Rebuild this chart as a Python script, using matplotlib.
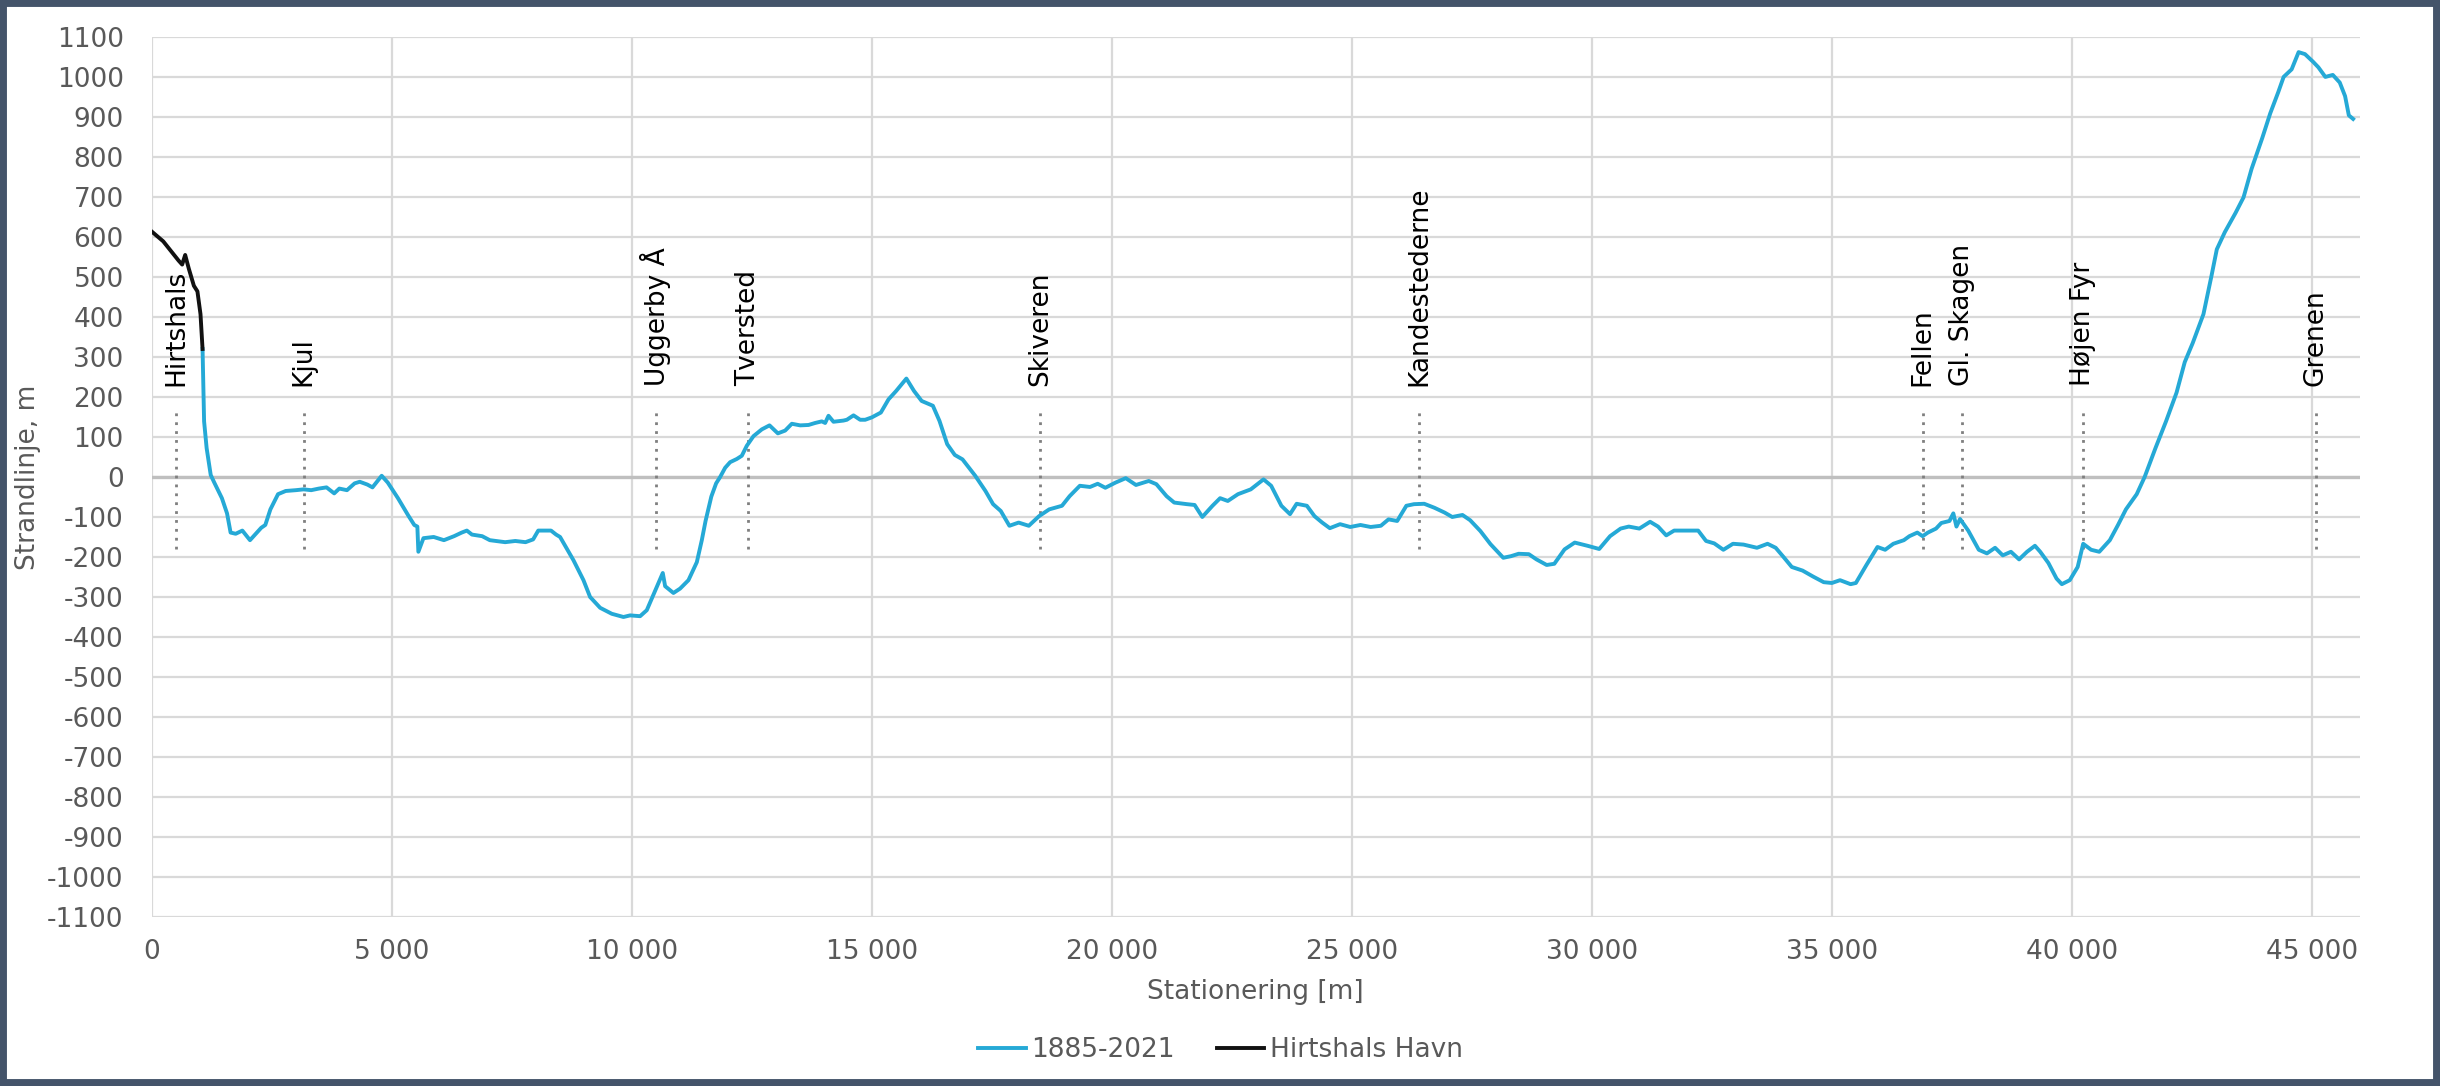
import matplotlib
matplotlib.use("Agg")
import matplotlib.pyplot as plt
from matplotlib.patches import Rectangle
from matplotlib.ticker import FuncFormatter, MultipleLocator

# Shoreline change 1885-2021 along the stationing
station_1885_2021 = [
    1063, 1095, 1148, 1233, 1307, 1466, 1573, 1647, 1753, 1892, 2051, 2157, 2285, 2370,
    2476, 2635, 2795, 3007, 3167, 3326, 3486, 3645, 3805, 3911, 4071, 4230, 4337, 4496,
    4602, 4709, 4794, 4921, 5133, 5346, 5473, 5537, 5558, 5664, 5877, 6090, 6302, 6461,
    6568, 6674, 6887, 7046, 7365, 7577, 7790, 7949, 8055, 8321, 8427, 8510, 8788, 8997,
    9135, 9344, 9587, 9830, 9969, 10177, 10316, 10524, 10649, 10698, 10871, 11010, 11184,
    11358, 11462, 11540, 11660, 11760, 11844, 11948, 12052, 12191, 12295, 12399, 12538,
    12712, 12872, 13046, 13198, 13337, 13511, 13685, 13823, 13962, 14031, 14101, 14205,
    14413, 14483, 14622, 14760, 14865, 15004, 15191, 15351, 15510, 15723, 15882, 16041,
    16275, 16413, 16573, 16732, 16892, 17157, 17370, 17529, 17689, 17869, 18061, 18273,
    18486, 18698, 18964, 19123, 19336, 19548, 19708, 19867, 20080, 20292, 20505, 20771,
    20930, 21143, 21302, 21568, 21727, 21887, 22099, 22258, 22418, 22630, 22896, 23162,
    23321, 23534, 23714, 23852, 24065, 24224, 24384, 24543, 24756, 24968, 25181, 25393,
    25606, 25765, 25946, 26137, 26296, 26509, 26722, 26934, 27093, 27306, 27465, 27678,
    27890, 28156, 28316, 28475, 28688, 28847, 29060, 29219, 29432, 29644, 29910, 30154,
    30380, 30600, 30770, 30990, 31214, 31380, 31550, 31715, 31940, 32215, 32380, 32550,
    32740, 32940, 33160, 33440, 33660, 33830, 34000, 34165, 34390, 34610, 34830, 35000,
    35170, 35390, 35500, 35720, 35950, 36110, 36280, 36500, 36615, 36780, 36890, 37000,
    37170, 37280, 37450, 37530, 37595, 37670, 37840, 38060, 38230, 38400, 38560, 38730,
    38900, 39065, 39230, 39340, 39510, 39680, 39790, 39955, 40120, 40235, 40400, 40570,
    40790, 40960, 41125, 41350, 41515, 41740, 41960, 42180, 42350, 42517, 42740, 42906,
    43018, 43185, 43408, 43575, 43742, 43964, 44131, 44298, 44410, 44577, 44722, 44855,
    45022, 45134, 45279, 45434, 45579, 45690, 45768, 45857,
]
shore_1885_2021 = [
    320, 139, 72, 5, -14, -53, -91, -139, -142, -134, -158, -144, -127, -120,
    -81, -43, -35, -33, -31, -33, -29, -26, -41, -29, -33, -16, -12, -19,
    -26, -10, 3, -14, -53, -96, -120, -124, -187, -153, -150, -158, -148, -139,
    -134, -144, -148, -158, -163, -160, -163, -156, -134, -134, -144, -150, -208, -258,
    -300, -327, -342, -350, -346, -348, -333, -275, -240, -273, -290, -279, -258,
    -213, -158, -110, -49, -16, 0, 23, 37, 45, 53, 78, 102,
    119, 129, 109, 116, 133, 129, 130, 135, 139, 135, 153, 138,
    141, 143, 154, 143, 143, 149, 161, 194, 215, 246, 215, 190,
    178, 140, 82, 55, 44, 3, -35, -68, -85, -122, -114, -122,
    -98, -81, -72, -48, -22, -25, -17, -27, -14, -3, -20, -10,
    -18, -48, -64, -68, -70, -100, -72, -53, -60, -43, -31, -6,
    -22, -72, -93, -67, -72, -98, -114, -128, -118, -125, -120, -125,
    -122, -106, -110, -72, -68, -67, -77, -89, -100, -95, -108, -135,
    -168, -202, -198, -192, -193, -206, -220, -217, -181, -164, -172, -180,
    -148, -129, -124, -129, -112, -124, -146, -134, -134, -134, -160, -166,
    -182, -167, -169, -177, -167, -177, -201, -225, -234, -249, -263, -265,
    -258, -268, -265, -220, -175, -182, -167, -158, -148, -139, -148, -139,
    -129, -115, -110, -91, -124, -105, -134, -182, -191, -177, -196, -187,
    -206, -187, -172, -187, -215, -254, -268, -258, -225, -167, -182, -187,
    -158, -120, -81, -43, 0, 72, 139, 211, 287, 335, 407, 502,
    569, 612, 660, 699, 770, 847, 909, 962, 1000, 1019, 1062, 1057,
    1038, 1024, 1000, 1005, 986, 952, 904, 895,
]

# Hirtshals harbour section
station_havn = [0, 244, 563, 638, 701, 776, 882, 956, 1020, 1063]
shore_havn = [614, 589, 541, 531, 555, 521, 478, 464, 407, 320]

# Named places along the coast
place_names = ["Hirtshals", "Kjul", "Uggerby Å", "Tversted", "Skiveren", "Kandestederne",
               "Fellen", "Gl. Skagen", "Højen Fyr", "Grenen"]
place_station = [510, 3167, 10500, 12420, 18507, 26403, 36893, 37706, 40234, 45078]

GRID = "#d9d9d9"
TEXT = "#595959"

plt.rcParams["font.family"] = ["DejaVu Sans"]

fig = plt.figure(figsize=(24.4, 10.86), dpi=100)
ax = fig.add_axes([0.0621, 0.1556, 0.9051, 0.8104])

ax.set_xlim(0, 46000)
ax.set_ylim(-1100, 1100)
ax.xaxis.set_major_locator(MultipleLocator(5000))
ax.yaxis.set_major_locator(MultipleLocator(100))
ax.xaxis.set_major_formatter(FuncFormatter(lambda v, p: f"{int(v):,}".replace(",", " ")))
ax.yaxis.set_major_formatter(FuncFormatter(lambda v, p: f"{int(v)}"))
ax.tick_params(length=0, labelsize=19, colors=TEXT)
ax.tick_params(axis="y", pad=20)
ax.tick_params(axis="x", pad=16)

ax.grid(True, color=GRID, linewidth=1.6)
ax.set_axisbelow(True)
for s in ax.spines.values():
    s.set_visible(False)
ax.axhline(0, color="#bfbfbf", linewidth=2.4, zorder=1)

# place markers
for name, st in zip(place_names, place_station):
    ax.plot([st, st], [-180, 165], color="#7f7f7f", linestyle=(0, (1, 2.2)),
            linewidth=2.0, zorder=2)
    ax.text(st, 228, name, rotation=90, ha="center", va="bottom",
            fontsize=19, color="black")

ax.plot(station_1885_2021, shore_1885_2021, color="#25a9d6", linewidth=2.8,
        label="1885-2021", zorder=3)
ax.plot(station_havn, shore_havn, color="#111111", linewidth=2.8,
        label="Hirtshals Havn", zorder=3)

ax.set_xlabel("Stationering [m]", fontsize=19, color=TEXT, labelpad=10)
ax.set_ylabel("Strandlinje, m", fontsize=19, color=TEXT)
ax.yaxis.set_label_coords(-0.050, 0.5)

leg = ax.legend(loc="center", bbox_to_anchor=(0.484, -0.151), ncol=2, frameon=False,
                fontsize=19, handlelength=1.8, handletextpad=0.2, columnspacing=1.6)
for t in leg.get_texts():
    t.set_color(TEXT)

# dark frame around the chart
fig.patches.append(Rectangle((0, 0), 1, 1, transform=fig.transFigure, fill=False,
                             edgecolor="#44546a", linewidth=10, zorder=10))

fig.savefig("out.png", dpi=100)
